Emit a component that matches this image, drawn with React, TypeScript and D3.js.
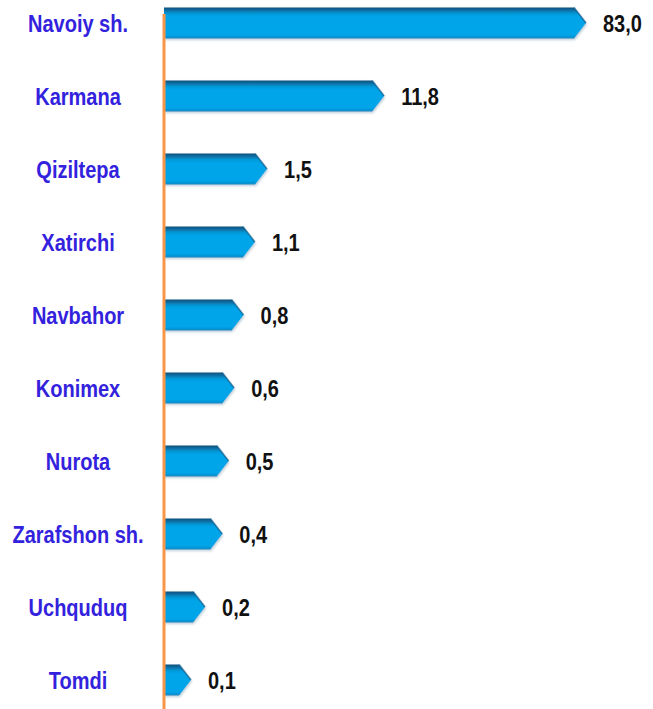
import React from "react";
import * as d3 from "d3";

const categories = [
  "Navoiy sh.",
  "Karmana",
  "Qiziltepa",
  "Xatirchi",
  "Navbahor",
  "Konimex",
  "Nurota",
  "Zarafshon sh.",
  "Uchquduq",
  "Tomdi",
];
const values = [83.0, 11.8, 1.5, 1.1, 0.8, 0.6, 0.5, 0.4, 0.2, 0.1];

const W = 653;
const H = 709;
const AXIS_X = 164;
const BAR_H = 31;
const HEAD = 12;

const fmt = d3
  .formatLocale({ decimal: ",", thousands: " ", grouping: [3], currency: ["", ""] })
  .format(".1f");

export default function App() {
  const y = d3.scalePoint<string>().domain(categories).range([23, 680]).padding(0);
  const x = d3.scalePow().exponent(0.3).domain([0.1, 83]).range([191, 586]);

  const font = "'Liberation Sans', Arial, sans-serif";

  return (
    <svg
      width={W}
      height={H}
      style={{ position: "absolute", left: 0, top: 0, background: "#fff" }}
    >
      <defs>
        <linearGradient id="barGrad" x1="0" y1="0" x2="0" y2="1">
          <stop offset="0" stopColor="#0a4f7c" />
          <stop offset="0.1" stopColor="#0a72a8" />
          <stop offset="0.2" stopColor="#049ad9" />
          <stop offset="0.3" stopColor="#02a4e9" />
          <stop offset="0.88" stopColor="#02a4e9" />
          <stop offset="1" stopColor="#0a88c4" />
        </linearGradient>
        <filter id="shadow" x="-5%" y="-20%" width="110%" height="150%">
          <feDropShadow dx="1" dy="1.5" stdDeviation="1" floodColor="#6b8fa8" floodOpacity="0.45" />
        </filter>
      </defs>
      {categories.map((c, i) => {
        const cy = y(c) as number;
        const tip = x(values[i]);
        const y0 = cy - BAR_H / 2;
        const y1 = cy + BAR_H / 2;
        const d = `M${AXIS_X},${y0}H${tip - HEAD}L${tip},${cy}L${tip - HEAD},${y1}H${AXIS_X}Z`;
        return (
          <g key={c}>
            <path d={d} fill="url(#barGrad)" filter="url(#shadow)" />
            <path
              d={`M${tip - HEAD},${y0}L${tip},${cy}`}
              stroke="#0a5a8a"
              strokeWidth={1.5}
              fill="none"
              opacity={0.7}
            />
            <text
              transform={`translate(${78},${cy + 9}) scale(0.87,1)`}
              textAnchor="middle"
              fontFamily={font}
              fontWeight="bold"
              fontSize={23}
              fill="#3322dd"
            >
              {c}
            </text>
            <text
              transform={`translate(${tip + 17},${cy + 9}) scale(0.87,1)`}
              textAnchor="start"
              fontFamily={font}
              fontWeight="bold"
              fontSize={23}
              fill="#111"
            >
              {fmt(values[i])}
            </text>
          </g>
        );
      })}
      <line x1={AXIS_X} x2={AXIS_X} y1={14} y2={H} stroke="#f79646" strokeWidth={3} />
    </svg>
  );
}
